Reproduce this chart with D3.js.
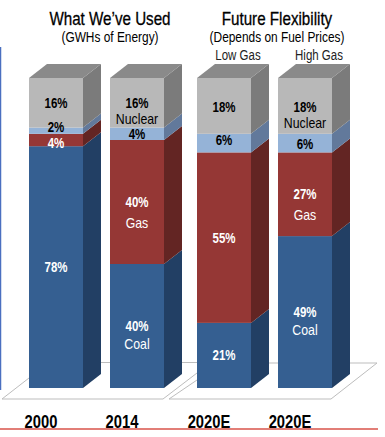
<!DOCTYPE html>
<html>
<head>
<meta charset="utf-8">
<script src="https://cdn.jsdelivr.net/npm/d3@7"></script>
<style>
  html, body { margin: 0; padding: 0; background: #fff; }
  svg { display: block; }
  text { font-family: "Liberation Sans", Arial, sans-serif; }
</style>
</head>
<body>
<div id="chart"></div>
<script>
// shares of energy by fuel, bottom of the stack first
const ids = ['a', 'b', 'c', 'd'];
const years = ['2000', '2014', '2020E', '2020E'];
const coal = [78, 40, 21, 49];
const gas = [4, 40, 55, 27];
const oil = [2, 4, 6, 6];
const nuclear = [16, 16, 18, 18];
const coalNames = ['', 'Coal', '', 'Coal'];
const gasNames = ['', 'Gas', '', 'Gas'];
const nuclearNames = ['', 'Nuclear', '', 'Nuclear'];

const W = 385, H = 437;
const DX = 18, DY = -14; // 3d depth of the bars

const svg = d3.select('#chart').append('svg').attr('width', W).attr('height', H);

const y = d3.scaleLinear().domain([0, 100]).range([388, 78]);
const xLeft = d3.scaleBand().domain(ids.slice(0, 2)).range([29, 164]).paddingInner(1 / 3);
const xRight = d3.scaleBand().domain(ids.slice(2)).range([197, 332]).paddingInner(1 / 3);
const xOf = id => (xLeft(id) !== undefined ? xLeft(id) : xRight(id));
const bw = xLeft.bandwidth();

const fuels = [
  {key: 'coal', vals: coal, names: coalNames, front: '#355f91', side: '#223f64', txt: '#fff', gap: 18},
  {key: 'gas', vals: gas, names: gasNames, front: '#953735', side: '#632523', txt: '#fff', gap: 21},
  {key: 'oil', vals: oil, names: null, front: '#95b3d7', side: '#62799b', txt: '#000', gap: 0},
  {key: 'nuclear', vals: nuclear, names: nuclearNames, front: '#b8b8b8', side: '#7b7b7b', txt: '#000', gap: 16},
];

// floor plates behind the bars
const floor = svg.append('g').attr('fill', 'none').attr('stroke', '#bdbdbd').attr('stroke-width', 1);
floor.append('path').attr('d', 'M2,399H163L197,373M2,399L29,378M101,362.5H110M164,362.5H197');
floor.append('path').attr('d', 'M169,399H331L377,363H250M169,399L197,380');

// left edge rule and bottom rule
svg.append('line').attr('x1', 0.5).attr('x2', 0.5).attr('y1', 47).attr('y2', 390)
  .attr('stroke', '#4a6fc0').attr('stroke-width', 1.5);
svg.append('line').attr('x1', 0).attr('x2', 378).attr('y1', 429).attr('y2', 429)
  .attr('stroke', '#d9534a').attr('stroke-width', 1.5);

// bars
ids.forEach((id, i) => {
  const x0 = xOf(id), x1 = x0 + bw;
  const g = svg.append('g');
  let acc = 0;
  fuels.forEach(f => {
    const v = f.vals[i];
    const yb = y(acc), yt = y(acc + v);
    g.append('rect').attr('x', x0).attr('y', yt).attr('width', bw).attr('height', yb - yt).attr('fill', f.front);
    g.append('path')
      .attr('d', `M${x1},${yb}L${x1 + DX},${yb + DY}L${x1 + DX},${yt + DY}L${x1},${yt}Z`)
      .attr('fill', f.side);
    acc += v;
  });
  g.append('path')
    .attr('d', `M${x0},${y(100)}L${x0 + DX},${y(100) + DY}L${x1 + DX},${y(100) + DY}L${x1},${y(100)}Z`)
    .attr('fill', '#8a8a8a');
});

// labels inside the bars
const nudge = {'oil-0': -4, 'gas-0': 3, 'oil-2': -3, 'oil-3': 1, 'nuclear-2': 1, 'nuclear-3': 1};
ids.forEach((id, i) => {
  const cx = xOf(id) + bw / 2;
  let acc = 0;
  fuels.forEach(f => {
    const v = f.vals[i];
    const cy = y(acc + v / 2) + (nudge[f.key + '-' + i] || 0);
    acc += v;
    svg.append('text').attr('x', cx).attr('y', cy + 5)
      .attr('text-anchor', 'middle').attr('font-size', 14).attr('font-weight', 'bold')
      .attr('fill', f.txt).text(v + '%');
    if (f.names && f.names[i]) {
      svg.append('text').attr('x', cx).attr('y', cy + 5 + f.gap)
        .attr('text-anchor', 'middle').attr('font-size', 15)
        .attr('fill', f.txt).text(f.names[i]);
    }
  });
});

// year labels, sitting left of the bar centres
function yearAxis(scale, labels) {
  const ax = d3.axisBottom(scale).tickSize(0).tickFormat(d => labels[ids.indexOf(d)]);
  const g = svg.append('g').attr('transform', 'translate(-15,412)').call(ax);
  g.select('.domain').remove();
  g.selectAll('text').attr('fill', '#000').attr('font-size', 18).attr('font-weight', 'bold')
    .attr('font-family', '"Liberation Sans", Arial, sans-serif');
}
yearAxis(xLeft, years);
yearAxis(xRight, years);

// headings
function label(txt, x, yy, size, color) {
  return svg.append('text').attr('x', x).attr('y', yy).attr('text-anchor', 'middle')
    .attr('font-size', size).attr('fill', color || '#000').text(txt);
}
label('What We\u2019ve Used', 110, 25, 18.5).attr('stroke', '#000').attr('stroke-width', 0.3);
label('(GWHs of Energy)', 110, 42, 14.5);
label('Future Flexibility', 277, 25, 18.5).attr('stroke', '#000').attr('stroke-width', 0.3);
label('(Depends on Fuel Prices)', 277, 42, 14.5);
label('Low Gas', 238, 60, 14, '#222');
label('High Gas', 319, 60, 14, '#222');

// the original face is an Arial Narrow, so squeeze everything horizontally
svg.selectAll('text').each(function() {
  const t = d3.select(this);
  t.attr('textLength', this.getComputedTextLength() * 0.82).attr('lengthAdjust', 'spacingAndGlyphs');
});
</script>
</body>
</html>
